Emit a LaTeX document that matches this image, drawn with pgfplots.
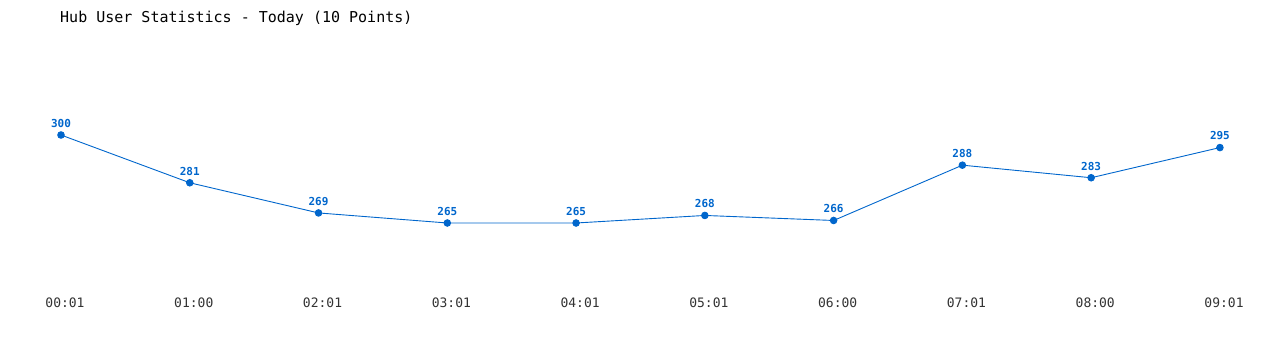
\documentclass[border=0pt]{standalone}
\usepackage{fontspec}
\setmainfont{DejaVu Sans Mono}
\usepackage{pgfplots}
\pgfplotsset{compat=1.18}
\definecolor{lineblue}{HTML}{0066CC}
\begin{document}
\begin{tikzpicture}[x=1pt,y=1pt]
\useasboundingbox (0,0) rectangle (1280,350);
\node[anchor=west,font=\fontsize{15}{15}\selectfont,inner sep=0pt] at (60,332) {Hub User Statistics - Today (10 Points)};
\begin{axis}[
  at={(61pt,56.6pt)}, anchor=south west,
  scale only axis, width=1159pt, height=158.4pt,
  xmin=0, xmax=9, ymin=237, ymax=300,
  clip=false,
  axis lines=none,
  /pgf/number format/assume math mode=true,
  nodes near coords,
  every node near coord/.append style={font=\fontsize{11}{11}\selectfont\bfseries, text=lineblue, inner sep=0pt, anchor=south, yshift=7pt},
]
\addplot[color=lineblue, line width=0.9pt, mark=*, mark size=3.3pt, mark options={fill=lineblue, draw=lineblue}] coordinates {
(0,300) (1,281) (2,269) (3,265) (4,265) (5,268) (6,266) (7,288) (8,283) (9,295)
};
\end{axis}
\foreach \i/\l in {0/00:01,1/01:00,2/02:01,3/03:01,4/04:01,5/05:01,6/06:00,7/07:01,8/08:00,9/09:01}{
  \node[font=\fontsize{13}{13}\selectfont, text=black!80, inner sep=0pt] at ({65+\i*128.78},47) {\l};
}
\end{tikzpicture}
\end{document}
